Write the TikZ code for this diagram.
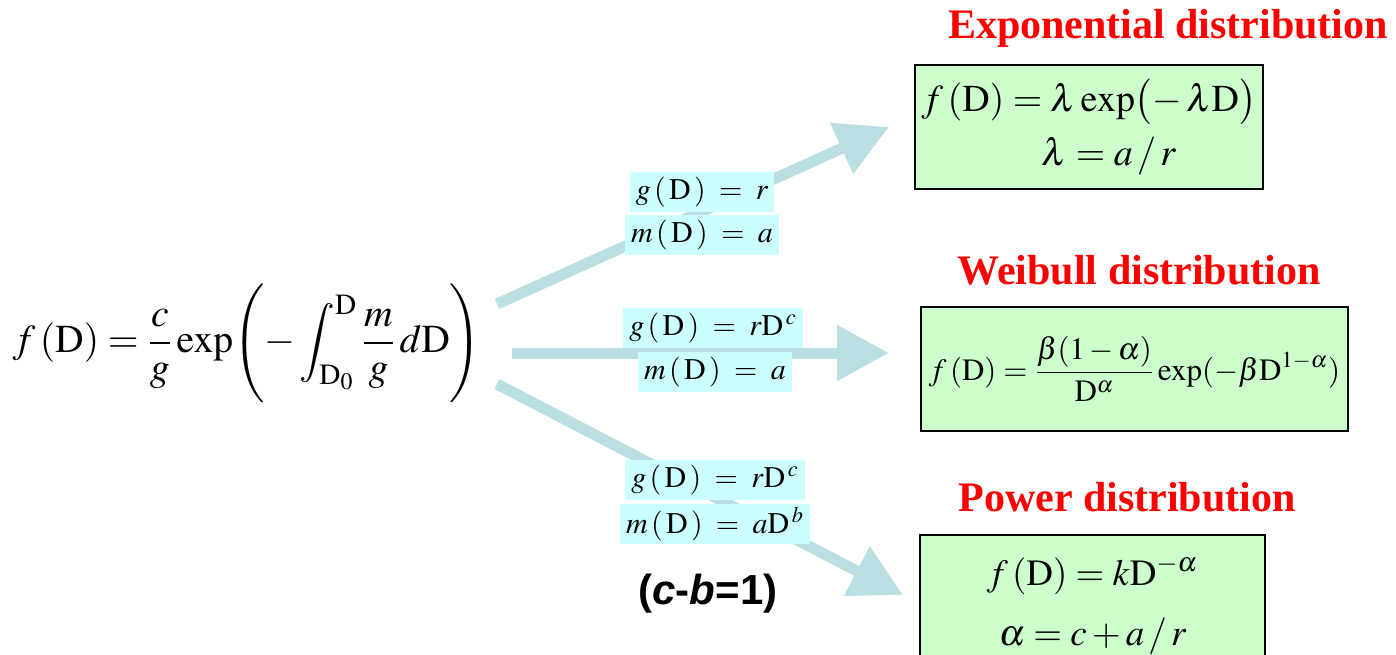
\documentclass[tikz,border=0pt]{standalone}
\usepackage{amsmath}
\usepackage{mathptmx}
\usepackage{fontspec}
\setmainfont{Liberation Serif}
\newfontfamily\arialfont{Liberation Sans}
\usetikzlibrary{positioning, arrows.meta}
\definecolor{flowblue}{HTML}{BADFE3}
\definecolor{condbg}{HTML}{CCFFFF}
\definecolor{distbg}{HTML}{CCFFCC}
\definecolor{titlered}{HTML}{FF0000}
\newcommand{\Dm}{\mathrm{D}}

\begin{document}
\begin{tikzpicture}[
    x=0.5pt, y=-0.5pt,
    flow/.style={-{Triangle[length=26pt, width=26.5pt]}, flowblue, line width=5.5pt},
    cond/.style={
      fill=condbg, inner xsep=3pt, inner ysep=0pt,
      minimum height=20pt, font=\fontsize{15}{17}\selectfont
    },
    distbox/.style={
      draw=black, line width=1pt, fill=distbg, align=center,
      font=\fontsize{19}{25}\selectfont
    },
    disttitle/.style={text=titlered, inner sep=1pt, font=\fontsize{21}{25}\selectfont\bfseries}
]
  \useasboundingbox (0,0) rectangle (1396,654);

  \node[font=\fontsize{19.8}{24}\selectfont] (general) at (247,343)
    {$\displaystyle f\,(\Dm)=\frac{c}{g}\exp\Biggl(-\int_{\Dm_0}^{\Dm}\frac{m}{g}\,d\Dm\Biggr)$};

  \node[distbox, minimum width=173pt, minimum height=62pt] (expbox) at (1089,127)
    {$f\,(\Dm)=\lambda\exp\bigl(-\,\lambda\Dm\bigr)$\\[2pt]\hspace*{20pt}$\lambda=a\,/\,r$};
  \node[distbox, minimum width=213.5pt, minimum height=62pt, font=\fontsize{15.5}{19}\selectfont] (weibox) at (1134.5,369)
    {$\displaystyle f\,(\Dm)=\frac{\beta(1-\alpha)}{\Dm^{\alpha}}\exp(-\beta\Dm^{1-\alpha})$};
  \node[distbox, minimum width=172.5pt, minimum height=70pt, font=\fontsize{18.5}{27}\selectfont] (powbox) at (1092.5,605)
    {$f\,(\Dm)=k\Dm^{-\alpha}$\\[3pt]$\alpha=c+a\,/\,r$};

  \node[disttitle] (exptitle) at (1168,28) {Exponential distribution};
  \node[disttitle] (weititle) at (1139,270) {Weibull distribution};
  \node[disttitle] (powtitle) at (1127,497) {Power distribution};

  \coordinate (s1) at (497,304);
  \coordinate (t1) at (889,127);
  \coordinate (s2) at (512,353);
  \coordinate (t2) at (889,353);
  \coordinate (s3) at (497,384);
  \coordinate (t3) at (903,595);

  \draw[flow] (s1) -- (t1);
  \draw[flow] (s2) -- (t2);
  \draw[flow] (s3) -- (t3);

  \node[cond] (g1) at (702,192) {$g\,(\,\Dm\,)\;=\;r$};
  \node[cond, below=1pt of g1] (m1) {$m\,(\,\Dm\,)\;=\;a$};
  \node[cond] (g2) at (713,328) {$g\,(\,\Dm\,)\;=\;r\Dm^{\,c}$};
  \node[cond, below=1.5pt of g2, xshift=1pt] (m2) {$m\,(\,\Dm\,)\;=\;a$};
  \node[cond] (g3) at (715,480) {$g\,(\,\Dm\,)\;=\;r\Dm^{\,c}$};
  \node[cond, below=1.5pt of g3] (m3) {$m\,(\,\Dm\,)\;=\;a\Dm^{\,b}$};

  \node[font={\arialfont\bfseries\fontsize{21}{24}\selectfont}] (cbrule) at (708,594)
    {(\textit{c}-\textit{b}=1)};
\end{tikzpicture}
\end{document}
